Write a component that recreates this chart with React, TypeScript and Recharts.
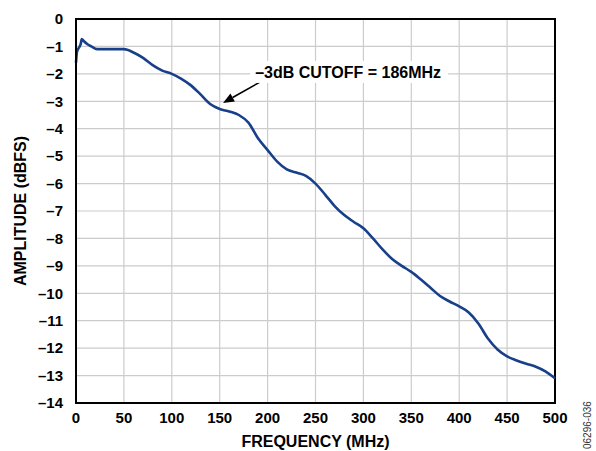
import { LineChart, Line, XAxis, YAxis, CartesianGrid, ReferenceArea, ReferenceLine, ReferenceDot } from 'recharts'

const freqMHz = [
  0, 1, 3, 5, 6, 8, 12, 16, 22, 30, 40, 50, 60, 70, 80, 90, 100, 110, 120, 130, 140, 150, 160, 170, 180, 190,
  200, 210, 220, 230, 240, 250, 260, 270, 280, 290, 300, 310, 320, 330, 340, 350, 360, 370, 380, 390, 400,
  410, 420, 430, 440, 450, 460, 470, 480, 490, 500
]
const amplitudeDbfs = [
  -1.6, -1.2, -1.05, -0.9, -0.73, -0.8, -0.92, -1.0, -1.1, -1.1, -1.1, -1.1, -1.22, -1.42, -1.68, -1.88, -2.0,
  -2.18, -2.42, -2.75, -3.1, -3.28, -3.37, -3.5, -3.78, -4.35, -4.78, -5.2, -5.48, -5.6, -5.72, -6.0, -6.4,
  -6.82, -7.15, -7.4, -7.63, -8.0, -8.4, -8.75, -9.0, -9.22, -9.5, -9.8, -10.1, -10.3, -10.48, -10.7, -11.1,
  -11.65, -12.05, -12.3, -12.45, -12.57, -12.68, -12.85, -13.1
]
const xTicks = [0, 50, 100, 150, 200, 250, 300, 350, 400, 450, 500]
const yTicks = [0, -1, -2, -3, -4, -5, -6, -7, -8, -9, -10, -11, -12, -13, -14]

const annotation = '–3dB CUTOFF = 186MHz'
const figureId = '06296-036'

const data = freqMHz.map((f, i) => ({ f, a: amplitudeDbfs[i] }))

const FONT = '"Liberation Sans", Arial, sans-serif'
const tickStyle = { fontFamily: FONT, fontWeight: 700, fontSize: 15, fill: '#000' }
const titleStyle = { ...tickStyle, fontSize: 16 }
const fmt = (v: number) => (v < 0 ? `–${-v}` : `${v}`)

const Arrow = (p: any) => {
  const { x1, y1, x2, y2 } = p
  const ang = Math.atan2(y2 - y1, x2 - x1)
  const L = 11, W = 4.5
  const bx = x2 - L * Math.cos(ang), by = y2 - L * Math.sin(ang)
  const nx = -Math.sin(ang) * W, ny = Math.cos(ang) * W
  return (
    <g>
      <line x1={x1} y1={y1} x2={bx} y2={by} stroke="#000" strokeWidth={1.6} />
      <polygon points={`${x2},${y2} ${bx + nx},${by + ny} ${bx - nx},${by - ny}`} fill="#000" />
    </g>
  )
}

const Callout = (p: any) => {
  const { cx, cy } = p
  return (
    <g>
      <rect x={cx - 5} y={cy - 11} width={198} height={22} fill="#fff" />
      <text x={cx} y={cy + 6} style={titleStyle}>{annotation}</text>
    </g>
  )
}

export default function App() {
  return (
    <div style={{ position: 'absolute', left: 0, top: 0, width: 596, height: 451, background: '#fff' }}>
      <LineChart width={596} height={451} data={data} margin={{ top: 19, right: 41, bottom: 0, left: 0 }}>
        <CartesianGrid stroke="#cccccc" strokeWidth={1.2} />
        <XAxis
          dataKey="f" type="number" domain={[0, 500]} ticks={xTicks} interval={0} height={48}
          axisLine={{ stroke: '#000', strokeWidth: 2 }} tickLine={false} tick={tickStyle} tickMargin={3}
          label={{ value: 'FREQUENCY (MHz)', position: 'insideBottom', offset: 4, style: titleStyle }}
        />
        <YAxis
          type="number" domain={[-14, 0]} ticks={yTicks} interval={0} width={76}
          axisLine={{ stroke: '#000', strokeWidth: 2 }} tickLine={false} tick={tickStyle} tickMargin={7}
          tickFormatter={fmt}
          label={{ value: 'AMPLITUDE (dBFS)', angle: -90, position: 'insideLeft', offset: 20, style: { ...titleStyle, textAnchor: 'middle' } }}
        />
        <ReferenceArea x1={0} x2={500} y1={-14} y2={0} fill="none" stroke="#000" strokeWidth={2} fillOpacity={0} />
        <Line dataKey="a" type="monotone" stroke="#173f8a" strokeWidth={2.6} dot={false} isAnimationActive={false} />
        <ReferenceLine segment={[{ x: 192, y: -2.3 }, { x: 153.5, y: -3.06 }]} shape={Arrow} />
        <ReferenceDot x={187} y={-1.93} r={0} shape={Callout} />
      </LineChart>
      <svg width={596} height={451} style={{ position: 'absolute', left: 0, top: 0, pointerEvents: 'none' }}>
        <text x={0} y={0} transform="translate(591,449) rotate(-90)" style={{ fontFamily: FONT, fontSize: 10, fill: '#333' }}>
          {figureId}
        </text>
      </svg>
    </div>
  )
}
